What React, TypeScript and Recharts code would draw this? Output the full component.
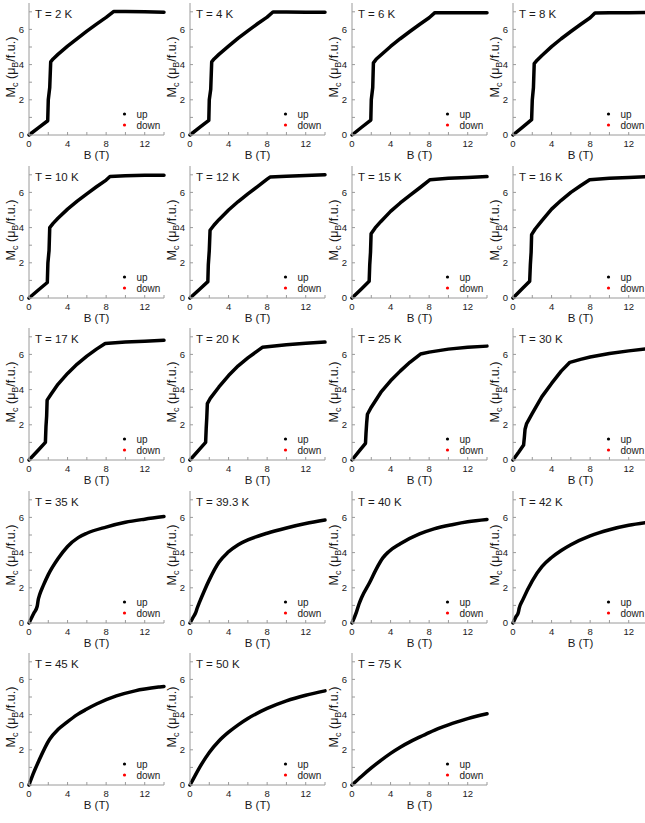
import { LineChart, Line, XAxis, YAxis } from "recharts";

// field in T, moment in muB/f.u. — "up" sweep
const B_2K = [0, 1, 1.94, 2.0, 2.15, 2.25, 2.5, 3, 4, 5, 6, 7, 8, 8.8, 10, 12, 14];
const M_2K = [0, 0.42, 0.81, 2.0, 2.7, 4.15, 4.32, 4.58, 5.05, 5.48, 5.9, 6.3, 6.68, 7.02, 7.02, 7.0, 6.98];
const B_4K = [0, 1, 1.95, 2.0, 2.15, 2.25, 2.5, 3, 4, 5, 6, 7, 8, 8.6, 10, 12, 14];
const M_4K = [0, 0.43, 0.83, 2.0, 2.6, 4.15, 4.32, 4.58, 5.05, 5.5, 5.92, 6.32, 6.7, 6.99, 6.99, 6.98, 6.97];
const B_6K = [0, 1, 1.95, 2.0, 2.15, 2.22, 2.5, 3, 4, 5, 6, 7, 8, 8.6, 10, 12, 14];
const M_6K = [0, 0.44, 0.85, 2.0, 2.7, 4.1, 4.3, 4.55, 5.03, 5.47, 5.88, 6.28, 6.66, 6.95, 6.95, 6.95, 6.95];
const B_8K = [0, 1, 1.93, 2.0, 2.12, 2.2, 2.5, 3, 4, 5, 6, 7, 8, 8.5, 10, 12, 14];
const M_8K = [0, 0.45, 0.87, 2.0, 2.7, 4.05, 4.25, 4.52, 5.02, 5.47, 5.88, 6.28, 6.66, 6.93, 6.94, 6.95, 6.96];
const B_10K = [0, 1, 1.9, 1.96, 2.08, 2.15, 2.5, 3, 4, 5, 6, 7, 8, 8.4, 10, 12, 14];
const M_10K = [0, 0.47, 0.88, 2.0, 2.7, 4.0, 4.24, 4.53, 5.05, 5.5, 5.92, 6.32, 6.7, 6.9, 6.94, 6.97, 6.98];
const B_12K = [0, 1, 1.85, 1.9, 2.0, 2.08, 2.5, 3, 4, 5, 6, 7, 8, 8.3, 10, 12, 14];
const M_12K = [0, 0.5, 0.93, 1.9, 2.7, 3.85, 4.15, 4.45, 5.0, 5.48, 5.92, 6.33, 6.75, 6.87, 6.92, 6.96, 7.0];
const B_15K = [0, 1, 1.78, 1.84, 1.92, 1.98, 2.4, 3, 4, 5, 6, 7, 8.1, 10, 12, 14];
const M_15K = [0, 0.53, 0.95, 1.9, 2.6, 3.65, 3.98, 4.35, 4.92, 5.4, 5.83, 6.25, 6.72, 6.8, 6.85, 6.9];
const B_16K = [0, 1, 1.73, 1.8, 1.88, 1.93, 2.3, 3, 4, 5, 6, 7, 7.95, 10, 12, 14];
const M_16K = [0, 0.55, 0.95, 1.9, 2.6, 3.6, 3.92, 4.4, 5.05, 5.55, 6.0, 6.38, 6.72, 6.8, 6.85, 6.9];
const B_17K = [0, 1, 1.7, 1.76, 1.83, 1.88, 2.3, 3, 4, 5, 6, 7, 7.9, 10, 12, 14];
const M_17K = [0, 0.58, 1.0, 1.9, 2.5, 3.4, 3.75, 4.3, 4.92, 5.45, 5.9, 6.3, 6.62, 6.7, 6.75, 6.8];
const B_20K = [0, 1, 1.62, 1.68, 1.74, 1.8, 2.1, 3, 4, 5, 6, 7, 7.5, 10, 12, 14];
const M_20K = [0, 0.62, 1.0, 1.8, 2.4, 3.2, 3.5, 4.15, 4.8, 5.35, 5.8, 6.2, 6.4, 6.55, 6.63, 6.7];
const B_25K = [0, 0.8, 1.4, 1.45, 1.52, 1.6, 2, 3, 4, 5, 6, 7.1, 8, 10, 12, 14];
const M_25K = [0, 0.55, 0.95, 1.5, 2.1, 2.6, 3.0, 3.85, 4.5, 5.05, 5.55, 6.02, 6.13, 6.3, 6.4, 6.47];
const B_30K = [0, 0.6, 1.1, 1.18, 1.25, 1.4, 2, 3, 4, 5, 5.9, 7, 8, 10, 12, 14];
const M_30K = [0, 0.45, 0.85, 1.3, 1.75, 2.05, 2.65, 3.6, 4.35, 5.05, 5.55, 5.72, 5.85, 6.05, 6.2, 6.32];
const B_35K = [0, 0.5, 0.85, 0.95, 1.1, 1.5, 2, 3, 4, 5.1, 6, 8, 10, 12, 14];
const M_35K = [0, 0.55, 0.95, 1.3, 1.6, 2.15, 2.75, 3.65, 4.35, 4.85, 5.1, 5.45, 5.72, 5.9, 6.05];
const B_39K = [0, 0.3, 0.6, 0.75, 1.0, 1.5, 2, 3, 3.9, 5, 6, 8, 10, 12, 14];
const M_39K = [0, 0.3, 0.6, 0.85, 1.2, 1.85, 2.45, 3.45, 4.0, 4.45, 4.72, 5.1, 5.4, 5.65, 5.85];
const B_40K = [0, 0.45, 0.73, 1.0, 1.83, 2.5, 3.2, 3.8, 5, 7, 8.5, 10.5, 12, 14];
const M_40K = [0, 0.6, 1.08, 1.45, 2.3, 3.05, 3.7, 4.05, 4.5, 5.06, 5.35, 5.6, 5.75, 5.88];
const B_42K = [0, 0.3, 0.55, 0.65, 1, 2, 3, 4, 5, 6, 8, 10, 12, 14];
const M_42K = [0, 0.35, 0.6, 0.85, 1.3, 2.4, 3.2, 3.72, 4.12, 4.45, 4.95, 5.3, 5.55, 5.72];
const B_45K = [0, 0.41, 1, 2.14, 3, 3.87, 5, 5.95, 7, 9.06, 11, 13.55, 14];
const M_45K = [0, 0.6, 1.35, 2.6, 3.15, 3.54, 4.0, 4.3, 4.6, 5.06, 5.35, 5.57, 5.6];
const B_50K = [0, 0.5, 1, 2, 3, 4, 5, 6, 8, 10, 12, 14];
const M_50K = [0, 0.5, 1.0, 1.85, 2.5, 3.0, 3.42, 3.78, 4.35, 4.78, 5.1, 5.35];
const B_75K = [0, 1, 2, 3, 4, 5, 6, 7, 8, 9, 10, 11, 12, 13, 14];
const M_75K = [0, 0.5, 0.97, 1.4, 1.8, 2.15, 2.45, 2.72, 2.98, 3.22, 3.42, 3.6, 3.77, 3.92, 4.05];

const TITLES = ["T = 2 K", "T = 4 K", "T = 6 K", "T = 8 K", "T = 10 K", "T = 12 K", "T = 15 K", "T = 16 K", "T = 17 K", "T = 20 K", "T = 25 K", "T = 30 K", "T = 35 K", "T = 39.3 K", "T = 40 K", "T = 42 K", "T = 45 K", "T = 50 K", "T = 75 K"];
const FIELDS = [B_2K, B_4K, B_6K, B_8K, B_10K, B_12K, B_15K, B_16K, B_17K, B_20K, B_25K, B_30K, B_35K, B_39K, B_40K, B_42K, B_45K, B_50K, B_75K];
const MOMENTS = [M_2K, M_4K, M_6K, M_8K, M_10K, M_12K, M_15K, M_16K, M_17K, M_20K, M_25K, M_30K, M_35K, M_39K, M_40K, M_42K, M_45K, M_50K, M_75K];

const X_TICKS = [0, 2, 4, 6, 8, 10, 12, 14];
const Y_TICKS = [0, 1, 2, 3, 4, 5, 6, 7];
const LEGEND = ["up", "down"];

const FONT = "'Liberation Sans', Arial, sans-serif";
const FRAME = "#9a9a9a";
const INK = "#1a1a1a";
const W = 170;
const H = 165;

const blank = () => "";

function Panel({ title, b, m, left, top, sharp }: { title: string; b: number[]; m: number[]; left: number; top: number; sharp: boolean }) {
  const data = b.map((x, i) => ({ b: x, m: m[i] }));
  return (
    <div style={{ position: "absolute", left, top, width: W, height: H }}>
      <LineChart width={W} height={H} data={data} margin={{ top: 3, right: 6, bottom: 0, left: 0 }}>
        <XAxis
          xAxisId="bottom"
          dataKey="b"
          type="number"
          domain={[0, 14]}
          ticks={X_TICKS}
          interval={0}
          tickFormatter={(v) => (v % 4 === 0 && v < 14 ? String(v) : "")}
          tickSize={-3}
          tickMargin={8}
          height={30}
          stroke={FRAME}
          tick={{ fill: INK, fontSize: 9.5, fontFamily: FONT }}
        />
        <XAxis
          xAxisId="top"
          orientation="top"
          dataKey="b"
          type="number"
          domain={[0, 14]}
          ticks={X_TICKS}
          interval={0}
          tickFormatter={blank}
          tickSize={-3}
          height={0}
          stroke={FRAME}
        />
        <YAxis
          yAxisId="left"
          type="number"
          domain={[0, 7.5]}
          ticks={Y_TICKS}
          interval={0}
          tickFormatter={(v) => (v % 2 === 0 ? String(v) : "")}
          tickSize={-3}
          tickMargin={8}
          width={29}
          stroke={FRAME}
          tick={{ fill: INK, fontSize: 9.5, fontFamily: FONT }}
        />
        <YAxis
          yAxisId="right"
          orientation="right"
          type="number"
          domain={[0, 7.5]}
          ticks={Y_TICKS}
          interval={0}
          tickFormatter={blank}
          tickSize={-3}
          width={0}
          stroke={FRAME}
        />
        <Line
          xAxisId="bottom"
          yAxisId="left"
          dataKey="m"
          name="up"
          type={sharp ? "linear" : "monotone"}
          stroke="#000"
          strokeWidth={3.5}
          strokeLinejoin="round"
          strokeLinecap="round"
          dot={false}
          isAnimationActive={false}
        />
      </LineChart>
      <svg
        width={W}
        height={H}
        style={{ position: "absolute", left: 0, top: 0, pointerEvents: "none", overflow: "visible" }}
        fontFamily={FONT}
      >
        <text x={35} y={18} fontSize={11.5} fill={INK}>
          {title}
        </text>
        <text transform="translate(14.5, 67) rotate(-90)" textAnchor="middle" fontSize={12.5} fill={INK}>
          <tspan>M</tspan>
          <tspan dy={3} fontSize={9}>c</tspan>
          <tspan dy={-3}> (μ</tspan>
          <tspan dy={3} fontSize={9}>B</tspan>
          <tspan dy={-3}>/f.u.)</tspan>
        </text>
        <text x={96.5} y={159} textAnchor="middle" fontSize={11.5} fill={INK}>
          B (T)
        </text>
        {LEGEND.map((name, i) => (
          <g key={name}>
            <circle cx={124.5} cy={114 + i * 11} r={1.6} fill={i === 0 ? "#000" : "#ff0000"} />
            <text x={136.5} y={117.5 + i * 11} fontSize={10} fill={INK}>
              {name}
            </text>
          </g>
        ))}
      </svg>
    </div>
  );
}

export default function App() {
  return (
    <div
      style={{
        position: "absolute",
        left: 0,
        top: 0,
        width: 645,
        height: 823,
        overflow: "hidden",
        background: "#fff",
        fontFamily: FONT,
      }}
    >
      {TITLES.map((title, i) => (
        <Panel
          key={title}
          title={title}
          b={FIELDS[i]}
          m={MOMENTS[i]}
          left={(i % 4) * 161.3}
          top={Math.floor(i / 4) * 162.5}
          sharp={i < 12}
        />
      ))}
    </div>
  );
}
